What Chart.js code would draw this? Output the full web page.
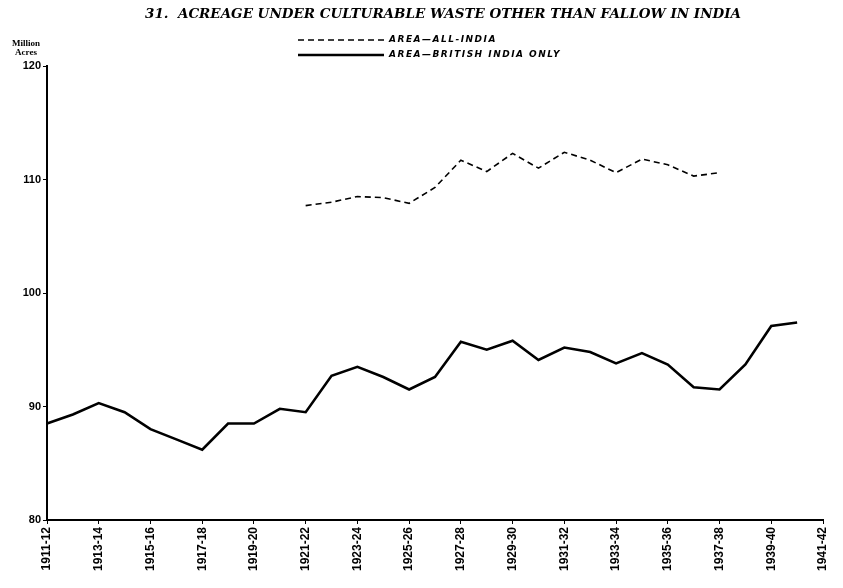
<!DOCTYPE html>
<html>
<head>
<meta charset="utf-8">
<script src="https://cdn.jsdelivr.net/npm/chart.js@4/dist/chart.umd.min.js"></script>
<style>
  html, body { margin: 0; padding: 0; background: #fff; }
  #wrap { width: 843px; height: 588px; }
</style>
</head>
<body>
<div id="wrap"><canvas id="chart"></canvas></div>
<script>
// years 1911-12 ... 1941-42
var years = [
  "1911-12", "1912-13", "1913-14", "1914-15", "1915-16", "1916-17", "1917-18",
  "1918-19", "1919-20", "1920-21", "1921-22", "1922-23", "1923-24", "1924-25",
  "1925-26", "1926-27", "1927-28", "1928-29", "1929-30", "1930-31", "1931-32",
  "1932-33", "1933-34", "1934-35", "1935-36", "1936-37", "1937-38", "1938-39",
  "1939-40", "1940-41", "1941-42",
];

// area - all india (only 1921-22 to 1937-38)
var allIndia = [
  null, null, null, null, null, null, null, null, null, null,
  107.7, 108.0, 108.5, 108.4, 107.9, 109.3, 111.7, 110.7, 112.3, 111.0,
  112.4, 111.7, 110.6, 111.8, 111.3, 110.3, 110.6,
  null, null, null, null,
];

// area - british india only
var britishIndia = [
  88.5, 89.3, 90.3, 89.5, 88.0, 87.1, 86.2, 88.5, 88.5, 89.8,
  89.5, 92.7, 93.5, 92.6, 91.5, 92.6, 95.7, 95.0, 95.8, 94.1,
  95.2, 94.8, 93.8, 94.7, 93.7, 91.7, 91.5, 93.7, 97.1, 97.4,
  null,
];

var yTicks = [80, 90, 100, 110, 120];

var titleText = "31.  ACREAGE UNDER CULTURABLE WASTE OTHER THAN FALLOW IN INDIA";
var legendLabels = ["AREA\u2014ALL-INDIA", "AREA\u2014BRITISH INDIA ONLY"];

//title, legend and y-axis unit, drawn by hand
var extras = {
  id: "extras",
  afterDraw(chart) {
    var c = chart.ctx;
    c.save();
    c.fillStyle = "#000";
    c.strokeStyle = "#000";
    c.textBaseline = "middle";

    c.textAlign = "center";
    c.font = "italic bold 13.5px 'DejaVu Serif'";
    c.fillText(titleText, 443, 14);

    c.font = "bold 9px 'Liberation Serif'";
    c.fillText("Million", 26, 44);
    c.fillText("Acres", 26, 53);

    c.textAlign = "left";
    c.font = "bold italic 9px 'DejaVu Sans'";
    c.letterSpacing = "1.5px";
    for (var i = 0; i < 2; i++) {
      var ds = chart.data.datasets[i];
      var y = 40 + i * 15;
      c.lineWidth = ds.borderWidth;
      c.setLineDash(ds.borderDash || []);
      c.beginPath();
      c.moveTo(298, y);
      c.lineTo(384, y);
      c.stroke();
      c.fillText(legendLabels[i], 389, y);
    }
    c.restore();
  },
};

var ctx = document.getElementById("chart").getContext("2d");
var myChart = new Chart(ctx, {
  type: "line",
  data: {
    labels: years,
    datasets: [
      {
        label: legendLabels[0],
        data: allIndia,
        borderColor: "#000",
        borderWidth: 1.6,
        borderDash: [6, 4],
        pointRadius: 0,
        tension: 0,
        spanGaps: false,
      },
      {
        label: legendLabels[1],
        data: britishIndia,
        borderColor: "#000",
        borderWidth: 2.6,
        pointRadius: 0,
        tension: 0,
      },
    ],
  },
  options: {
    responsive: true,
    maintainAspectRatio: false,
    animation: false,
    layout: {
      padding: { left: 0, right: 20, top: 66, bottom: 0 },
    },
    plugins: {
      legend: { display: false },
      tooltip: { enabled: false },
      title: { display: false },
    },
    scales: {
      x: {
        offset: false,
        border: { display: true, color: "#000", width: 2 },
        grid: {
          drawOnChartArea: false,
          drawTicks: true,
          tickLength: 4,
          color: function (c) {
            return c.index % 2 == 0 ? "#000" : "rgba(0,0,0,0)";
          },
        },
        ticks: {
          autoSkip: false,
          minRotation: 90,
          maxRotation: 90,
          color: "#000",
          padding: 3,
          font: { family: "'Liberation Sans'", size: 12, weight: "bold" },
          callback: function (v, i) {
            return i % 2 == 0 ? years[i] : "";
          },
        },
        afterFit: function (s) {
          s.height = 68;
        },
      },
      y: {
        min: 80,
        max: 120,
        border: { display: true, color: "#000", width: 2 },
        grid: { drawOnChartArea: false, drawTicks: true, tickLength: 4, color: "#000" },
        afterBuildTicks: function (s) {
          s.ticks = yTicks.map(function (v) { return { value: v }; });
        },
        ticks: {
          color: "#000",
          padding: 2,
          font: { family: "'Liberation Sans'", size: 11, weight: "bold" },
        },
        afterFit: function (s) {
          s.width = 47;
        },
      },
    },
  },
  plugins: [extras],
});
</script>
</body>
</html>
